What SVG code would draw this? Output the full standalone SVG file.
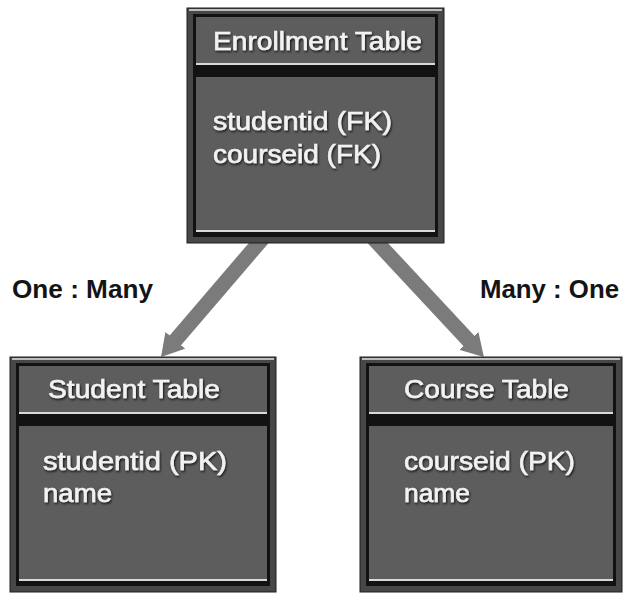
<svg xmlns="http://www.w3.org/2000/svg" width="624" height="594" viewBox="0 0 624 594">
<defs>
<style>
.frame{fill:#474747;stroke:#1e1e1e;stroke-width:1}
.inner{fill:#121212}
.panel{fill:#5d5d5d}
.hl{stroke:#d9d9d9;stroke-width:2}
.top{stroke:#bdbdbd;stroke-width:2}
.t{font-family:"Liberation Sans",Arial,sans-serif;font-size:26px;fill:#f2f2f2;stroke:#f2f2f2;stroke-width:0.6;filter:url(#sh)}
.lbl{font-family:"Liberation Sans",Arial,sans-serif;font-size:26px;font-weight:bold;fill:#141414}
.arrow{stroke:#7b7b7b;stroke-width:15;fill:none}
</style>
<filter id="sh" x="-5%" y="-20%" width="110%" height="150%">
<feDropShadow dx="1" dy="1.5" stdDeviation="0.8" flood-color="#000" flood-opacity="0.8"/>
</filter>
<marker id="head" markerUnits="userSpaceOnUse" viewBox="0 0 22 26" markerWidth="22" markerHeight="26" refX="1" refY="13" orient="auto">
<path d="M0,0 L22,13 L0,26 z" fill="#7b7b7b"/>
</marker>
</defs>
<rect width="624" height="594" fill="#ffffff"/>
<g id="connectors">
<line class="arrow" x1="263" y1="238" x2="174.7" y2="341.1" marker-end="url(#head)"/>
<line class="arrow" x1="373" y1="238" x2="469.6" y2="341.7" marker-end="url(#head)"/>
<text class="lbl" x="12" y="298" textLength="141" lengthAdjust="spacingAndGlyphs">One : Many</text>
<text class="lbl" x="480" y="298" textLength="139" lengthAdjust="spacingAndGlyphs">Many : One</text>
</g>
<g id="enrollment" transform="translate(187,8)">
<rect class="frame" x="0" y="0" width="257" height="235"/>
<line class="top" x1="2" y1="2" x2="255" y2="2"/>
<rect class="inner" x="6" y="6" width="245" height="223"/>
<rect class="panel" x="9" y="9" width="239" height="46"/>
<line class="hl" x1="9" y1="56" x2="248" y2="56"/>
<rect class="panel" x="9" y="69" width="239" height="153"/>
<line class="hl" x1="9" y1="223" x2="248" y2="223"/>
<text class="t" x="26" y="42" textLength="209" lengthAdjust="spacingAndGlyphs">Enrollment Table</text>
<text class="t" x="26" y="122" textLength="179" lengthAdjust="spacingAndGlyphs">studentid (FK)</text>
<text class="t" x="26" y="155" textLength="168" lengthAdjust="spacingAndGlyphs">courseid (FK)</text>
</g>
<g id="student" transform="translate(10,357)">
<rect class="frame" x="0" y="0" width="266" height="235"/>
<line class="top" x1="2" y1="2" x2="264" y2="2"/>
<rect class="inner" x="6" y="6" width="254" height="223"/>
<rect class="panel" x="9" y="9" width="248" height="46"/>
<line class="hl" x1="9" y1="56" x2="257" y2="56"/>
<rect class="panel" x="9" y="69" width="248" height="153"/>
<line class="hl" x1="9" y1="223" x2="257" y2="223"/>
<text class="t" x="38" y="41" textLength="172" lengthAdjust="spacingAndGlyphs">Student Table</text>
<text class="t" x="33" y="113" textLength="184" lengthAdjust="spacingAndGlyphs">studentid (PK)</text>
<text class="t" x="33" y="145" textLength="69" lengthAdjust="spacingAndGlyphs">name</text>
</g>
<g id="course" transform="translate(360,357)">
<rect class="frame" x="0" y="0" width="262" height="235"/>
<line class="top" x1="2" y1="2" x2="260" y2="2"/>
<rect class="inner" x="6" y="6" width="250" height="223"/>
<rect class="panel" x="9" y="9" width="244" height="46"/>
<line class="hl" x1="9" y1="56" x2="253" y2="56"/>
<rect class="panel" x="9" y="69" width="244" height="153"/>
<line class="hl" x1="9" y1="223" x2="253" y2="223"/>
<text class="t" x="44" y="41" textLength="165" lengthAdjust="spacingAndGlyphs">Course Table</text>
<text class="t" x="44" y="113" textLength="171" lengthAdjust="spacingAndGlyphs">courseid (PK)</text>
<text class="t" x="44" y="145" textLength="66" lengthAdjust="spacingAndGlyphs">name</text>
</g>
</svg>
